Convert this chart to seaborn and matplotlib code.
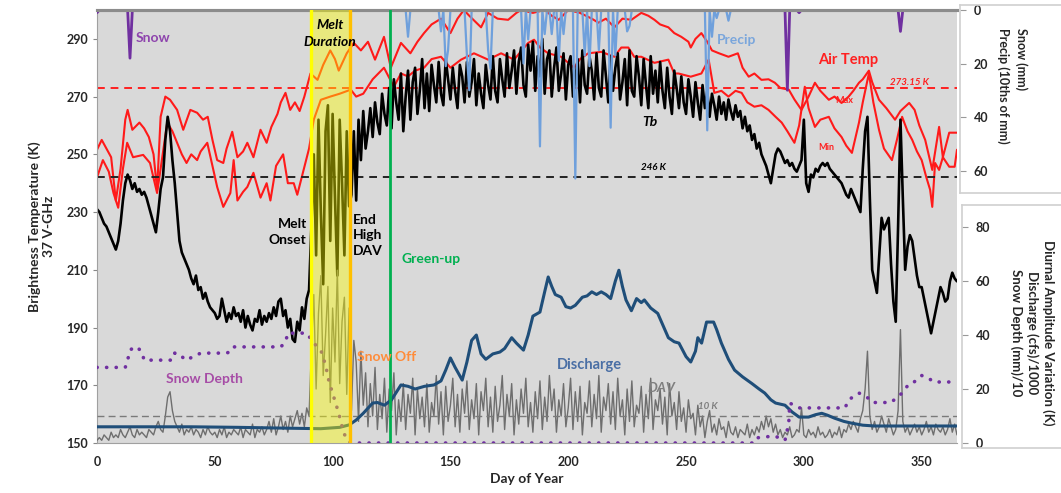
import numpy as np
import pandas as pd
import matplotlib
matplotlib.use("Agg")
import matplotlib.pyplot as plt
import seaborn as sns

# ---------------- data ----------------
days = list(range(366))
tb = [231,230,228,226,225,223,221,219,217,220,
      226,234,240,243,241,238,240,237,238,236,
      237,235,232,229,226,223,230,238,242,255,
      263,258,248,240,230,220,216,214,212,210,
      207,205,208,203,204,200,202,199,197,196,
      195,193,194,200,196,192,195,193,197,194,
      195,192,196,190,194,191,189,193,192,196,
      191,194,192,195,193,197,194,199,200,194,
      196,190,193,186,185,192,189,197,193,200,
      203,225,250,215,262,230,205,258,267,220,
      264,235,208,262,240,215,258,232,236,258,
      234,262,248,265,252,258,266,256,268,261,
      257,271,264,260,273,259,276,268,262,278,
      258,270,279,262,275,280,264,272,283,266,
      278,265,281,274,268,282,271,267,283,276,
      269,280,272,266,281,277,268,282,270,275,
      283,267,278,271,266,281,274,269,284,272,
      268,283,276,270,285,273,279,286,271,282,
      287,274,270,288,279,289,272,284,277,290,
      271,283,286,270,280,287,272,278,285,269,
      281,284,270,276,283,268,286,274,271,284,
      279,269,285,273,270,286,277,268,284,272,
      280,285,269,275,283,267,286,272,270,284,
      277,267,283,274,266,284,271,279,268,282,
      272,266,280,270,264,279,273,266,277,268,
      264,276,270,263,275,268,262,274,266,272,
      263,271,267,262,270,264,268,262,269,265,
      262,267,263,265,259,263,258,260,255,257,
      252,254,250,248,246,243,240,245,250,252,
      251,249,247,248,246,247,245,244,246,248,
      262,240,237,243,242,245,244,246,247,246,
      247,245,244,243,242,241,240,238,236,235,
      238,236,234,232,230,245,258,263,235,210,
      206,202,215,228,224,226,228,212,199,192,
      225,262,235,210,218,222,220,214,208,204,
      204,200,196,192,188,192,196,200,204,202,
      199,200,206,209,207,206]

dav = [1,2,1,3,2,1,4,2,3,2,
       5,3,2,4,6,3,2,5,3,4,
       3,2,5,4,3,6,8,5,4,10,
       17,19,12,8,6,4,7,3,5,4,
       6,3,5,4,2,5,3,6,4,3,
       4,2,5,3,6,2,4,3,5,4,
       3,6,2,5,4,3,7,2,5,4,
       6,3,5,8,4,9,3,6,10,5,
       8,4,10,6,9,12,7,11,6,13,
       10,35,55,20,48,62,25,40,58,15,
       50,30,64,22,45,54,18,50,12,38,
       30,8,34,14,26,6,22,10,28,5,
       18,9,24,4,20,12,26,3,16,8,
       22,5,18,11,24,3,20,9,17,6,
       22,4,15,10,25,7,19,3,21,8,
       14,24,6,18,4,20,11,23,5,16,
       9,22,3,19,12,24,6,17,4,21,
       8,14,25,5,18,10,22,3,16,7,
       20,11,24,6,15,4,19,9,23,5,
       17,8,25,12,20,4,16,10,22,6,
       13,24,5,19,8,21,3,15,11,23,
       6,18,9,25,4,17,12,22,7,19,
       5,24,10,16,3,20,8,23,6,14,
       11,21,4,18,9,24,5,16,12,20,
       7,17,3,22,10,15,5,19,8,13,
       4,16,9,11,3,14,6,10,2,8,
       12,4,7,3,9,5,6,2,8,4,
       3,6,2,5,4,3,7,2,5,3,
       6,4,8,5,10,6,9,4,7,3,
       5,2,4,3,6,2,3,5,4,13,
       3,2,5,3,4,2,6,3,4,2,
       3,5,2,4,3,6,2,5,4,7,
       5,8,6,4,9,12,20,34,10,5,
       8,4,6,10,7,4,9,6,3,5,
       12,42,8,4,6,3,5,7,4,6,
       3,5,8,4,6,3,7,5,4,6,
       3,5,9,4,7,3]

tmax_day = [0,2,4,6,8,10,12,13,15,18,20,22,24,25.5,27,29,31,34,36.6,39.6,42.5,45,47,49,51,53.6,55,57.4,59.6,62,63.8,66.4,69.4,72,74,76.6,78,80,82,84,86,88,90.6,93.6,96,99,101,102.6,106,109,112,115,118,121.8,124.7,129,133,136,138.8,142,146,150,153,155.7,158,163,166,170,174.5,178,180,185,190,193,196,200,205,210,212.8,216,219.6,223,226.8,231,234,236.6,239,242.5,245,248,251,252,254,256.5,259,261,264,268,272,274,276.6,279,282,285,287.7,290,293.6,296,299,302,304.7,307,310.6,313,316,319,321,323.4,325,327.6,329,331.9,335,338.7,341,344.7,347,349,351.5,354.5,357.4,359,361.7,365]
tmax = [251.6,255,252,249,234,245,262,265.4,258.5,261,259,256,250,237.7,263,270,268.9,265.4,258.5,265.4,264.4,262,263,255,248,247,252,257.8,249,251,254,249,258.5,254,259.5,264,268,271.3,265.4,268,265,270,278,275.8,281,286,283,279,285,288.6,286,289,282.8,290.7,280,288.6,285,289,292,295,297,292,297,300,298,294,299,297,296.6,299,300,299,300,298,296.6,300,299,297,295.6,297,294,297,296.6,299,298,296.6,295,294,292,290.7,289,287,290,292,289,286,285,283.8,285,280,276.9,278,275.8,276,274.8,273,272.4,269,265.4,270,274.8,272,268.9,270,267.8,270,272,274.8,276,279,275,268.9,266,262,265,267.8,265.4,260,255,244.6,259.5,249,257.5,257.5]

tmin_day = [0,2.5,5,7,9,11,12.8,15.3,19.6,22.5,25.5,27,29.8,32,34,36,38,40,42.5,44,46.8,49,51,53.6,56.6,58,59.6,62,63.8,66.4,69.4,72,73.6,76,79,81,83.5,85,87.7,90,92,95,99,103,107.7,110,113,117,121.8,126,129,132,135,138.8,142,146,150,154.5,160,166,171.5,177,183,185.5,188,191.5,197,202.5,205,208.5,214,219.6,222.5,225.5,228,231,236.6,242.5,245,246.8,252,256.5,259.6,262,265,268,271,273.6,276,279,282,285,288,290.6,293,296,298,300.4,302,304.7,307,310.6,313,316,318,320.4,323.4,325,327.6,329.5,331.9,334,337.4,339.5,341.7,344,346,348,350,352,353.6,354.5,355.7,357.4,359,361.7,364,365]
tmin = [242,248,244,236.6,231.5,245,254,249,249.8,247,236.6,245,261,258,254,250,247,250,248,251,254,246,238.7,231.8,236.6,248,234,237,238.7,243.6,235,240,234,246,250,240,240,236,244.6,252,262,268.9,270,271,272.4,270,271,276,280,273.4,278,277,279,280,283,283.8,280,282.8,285,282.8,285,282.8,288.6,289.7,287,285,283.8,280,283,285,285.5,283.8,287,287,283.8,283.8,281.7,282.8,278,278,276.9,278,282.8,271.3,272,270,272,271.3,268,266.5,267,265.4,263,261,258,254,260,273.4,266,259.5,262,263,259,256,253,250.5,261,268,278,268,258.5,252,248,255,263,258,255,251,248,242,237.7,231.8,247,244.6,249,245.7,245.7,251.6]

discharge_day = [0,20,40,60,80,95,103,107,110,113,117,119,122,125,129,132,135,139,143,146,148,150,152,155,157,159,161,163,165,168,171,173,176,178,181,183,185,188,190,191.5,193,194.5,197,199,201,203,206,208,210,212,214,216,218,220,221.5,223,224.5,226.8,229,231,232.3,235,238,240,242.5,245,247,250,252,254,255,256.6,258.7,261.7,263,265,268,270.6,274,278,281,283.4,286,288,292,295,298,302,305,307.6,310,313,317,320,325,330,365]
discharge = [6,6,6,5.8,5.5,5.3,5.8,6.7,8.5,11,14.8,15,14,16,21.5,21,20,21,21.5,23,27,31.5,28,23.3,30,38,40,33,31,33,33.7,35,39,37,34.4,40,47,48.5,56,61.5,58,55,54,50.5,50,51,54,54.5,56,55,56,55,53.5,60,64,58,53,49,53.5,52,53,50,48,44,39,37.5,37,32,30,34,39,37,44.8,44.8,42,37,31,27,24.5,22,20,18.5,16,14.8,14,11.5,9.6,9.6,10.5,11,10.3,9.2,8,7.4,6.6,6.3,6.3]

snowdepth_day = [0,12,13,14,16,17,19,20,32,33,35,37.5,41,44,55,57,58,78,80,81,89,92,95,97,98.4,100.5,102.6,104.7,106.8,108,278,279,283,287.6,292,293.6,294,298,317.5,319,323.4,326.8,329,337,341.7,344.7,346.8,350,353,355,365]
snowdepth = [28,28,30.7,34.4,35.6,35.6,33.7,30.7,30.7,33.3,33,30.7,32,33.3,33.3,34,35.6,35.6,37.4,40.7,40.7,37,34.4,28.9,23,17,11,3.7,0.4,0,0,1.8,2.2,2.6,1,7.4,14.8,13,13,16,18.5,17,15,15,18.5,22,22.6,25,24,22.6,22.6]

precip_day = [132,146,148,149,157,158,166,167,181,183,188,190,193,196,198,203,207,209,213,218,220,225,226,259,261,263,268]
precip_val = [10,8,21,15,17,30,15,22,20,11,51,9,9,19,9,63,17,21,15,44,17,8,6,45,10,3,4]

snow_day = [0,14,293,298,341]
snow_val = [1,18,30,1,8]

melt_onset, melt_end, green_up = 91, 107.5, 124.5
freeze_K, tb_threshold, dav_threshold = 273.15, 242, 10

x_ticks = [0, 50, 100, 150, 200, 250, 300, 350]
y_ticks_left = [150, 170, 190, 210, 230, 250, 270, 290]
precip_ticks = [0, 20, 40, 60]
dav_ticks = [0, 20, 40, 60, 80]

# ---------------- style ----------------
sns.set_style("white")
plt.rcParams['font.family'] = ['Lato', 'DejaVu Sans']
plt.rcParams['font.weight'] = 'bold'

W, H = 1061, 493
fig = plt.figure(figsize=(W / 100, H / 100), dpi=100)

def rect(x0, y0, x1, y1):
    return [x0 / W, 1 - y1 / H, (x1 - x0) / W, (y1 - y0) / H]

ax = fig.add_axes(rect(97, 10, 957, 443))
ax.set_facecolor('#d9d9d9')
ax.set_xlim(0, 365)
ax.set_ylim(150, 300)

ax2 = ax.twinx()
ax2.set_ylim(0, 160.4)
ax3 = ax.twinx()
ax3.set_ylim(161.9, 0)
for a in (ax2, ax3):
    a.set_yticks([])
    for s in a.spines.values():
        s.set_visible(False)
ax3.spines['top'].set_visible(True)
ax3.spines['top'].set_color('#8c8c8c')
ax3.spines['top'].set_linewidth(2.2)

# main series
sns.lineplot(x=tmax_day, y=tmax, ax=ax, color='#ff1a1a', lw=1.5, sort=False, estimator=None)
sns.lineplot(x=tmin_day, y=tmin, ax=ax, color='#ff1a1a', lw=1.5, sort=False, estimator=None)
ax.axhline(freeze_K, color='#ff2020', lw=1.4, ls=(0, (4, 3)))
ax.axhline(tb_threshold, color='#222222', lw=1.4, ls=(0, (4, 3)))
sns.lineplot(x=days, y=tb, ax=ax, color='black', lw=1.9, sort=False, estimator=None)

# secondary series
sns.lineplot(x=days, y=dav, ax=ax2, color='#6e6e6e', lw=1.0, sort=False, estimator=None)
ax2.axhline(dav_threshold, color='#7a7a7a', lw=1.0, ls=(0, (5, 3)))
sns.lineplot(x=discharge_day, y=discharge, ax=ax2, color='#1f4e79', lw=2.2, sort=False, estimator=None)
sns.lineplot(x=snowdepth_day, y=snowdepth, ax=ax2, color='#7030a0', lw=2.6,
             linestyle=(0, (0.05, 2.6)), dash_capstyle='round', sort=False, estimator=None)

# precip & snow as daily series (zero on days without)
precip_daily = np.zeros(len(days))
precip_daily[precip_day] = precip_val
snow_daily = np.zeros(len(days))
snow_daily[snow_day] = snow_val
sns.lineplot(x=days, y=precip_daily, ax=ax3, color='#6fa0dc', lw=1.6, sort=False, estimator=None)
sns.lineplot(x=days, y=snow_daily, ax=ax3, color='#7030a0', lw=2.0, sort=False, estimator=None)

# melt duration band and green-up
ax3.axvspan(melt_onset, melt_end, color='#ffff00', alpha=0.42, lw=0, zorder=5)
ax3.axvline(melt_onset, color='#ffff00', lw=2.4, zorder=6)
ax3.axvline(melt_end, color='#ffc000', lw=2.4, zorder=6)
ax3.axvline(green_up, color='#00b050', lw=2.0, zorder=6)

# axes cosmetics
ax.set_xticks(x_ticks)
ax.set_yticks(y_ticks_left)
ax.tick_params(axis='both', labelsize=9, length=3, color='#888888', direction='out')
ax.tick_params(axis='x', pad=6)
for lbl in ax.get_xticklabels() + ax.get_yticklabels():
    lbl.set_fontweight('bold')
ax.spines['right'].set_visible(False)
ax.spines['top'].set_color('#8c8c8c'); ax.spines['top'].set_linewidth(2.2)
ax.spines['left'].set_color('#a0a0a0'); ax.spines['bottom'].set_color('#a0a0a0')
ax.set_xlabel('Day of Year', fontsize=10, fontweight='bold', labelpad=4)
ax.set_ylabel('Brightness Temperature (K)\n37 V-GHz', fontsize=10, fontweight='bold', labelpad=8)

T = ax.transData
def note(x, y, s, color='black', size=10, style='normal', ha='left', va='center', **kw):
    ax3.text(x, y, s, transform=T, color=color, fontsize=size, fontstyle=style,
             fontweight='bold', ha=ha, va=va, zorder=10, **kw)

note(16.5, 290.3, 'Snow', color='#8e44ad')
note(99, 292, 'Melt\nDuration', style='italic', ha='center', linespacing=1.5)
note(263, 289.6, 'Precip', color='#7aa6dc')
note(306, 282.7, 'Air Temp', color='#ff2020', size=10.5)
note(336.4, 275, '273.15 K', color='#ff2020', size=7, style='italic')
note(313.5, 268.8, 'Max', color='#ff2020', size=6.5)
note(306, 252.2, 'Min', color='#ff2020', size=6.5)
note(231.5, 261.2, 'Tb', style='italic', size=10)
note(231, 245.6, '246 K', style='italic', size=7)
note(89, 223, 'Melt\nOnset', ha='right', linespacing=1.4)
note(108.6, 222, 'End\nHigh\nDAV', linespacing=1.35)
note(129.4, 213.7, 'Green-up', color='#00b050')
note(110.3, 179.8, 'Snow Off', color='#ff8c3a')
note(29.3, 172.2, 'Snow Depth', color='#a64ca6')
note(195.2, 177, 'Discharge', color='#4a6fa5', size=10.5)
note(233.8, 169, 'DAV', color='#7f7f7f', style='italic')
note(255, 162.5, '10 K', color='#7f7f7f', style='italic', size=7)

# ---------------- right-hand axis panels ----------------
def panel(x0, y0, x1, y1, lim, ticks):
    p = fig.add_axes(rect(x0, y0, x1, y1))
    p.set_facecolor('white')
    p.set_xticks([])
    p.set_ylim(*lim)
    p.set_yticks(ticks)
    p.tick_params(axis='y', direction='in', length=4, color='#999999', pad=-10,
                  labelsize=9, left=True, labelleft=True)
    for lbl in p.get_yticklabels():
        lbl.set_horizontalalignment('left')
        lbl.set_fontweight('bold')
    for s in p.spines.values():
        s.set_color('#d0d0d0'); s.set_linewidth(1.2)
    return p

p1 = panel(960, 5, 1066, 193, (68.4, -1.87), precip_ticks)
p1.text(1012 / W, 1 - 28 / H, 'Snow (mm)\nPrecip (10ths of mm)', transform=fig.transFigure,
        rotation=270, ha='center', va='top', fontsize=9, fontweight='bold',
        multialignment='left', linespacing=1.5)
p2 = panel(962, 205, 1066, 448, (-1.85, 88.1), dav_ticks)
p2.text(1032 / W, 1 - 333 / H,
        'Diurnal Amplitude Variation (K)\nDischarge (cfs)/1000\nSnow Depth (mm)/10',
        transform=fig.transFigure, rotation=270, ha='center', va='center', fontsize=9.5,
        fontweight='bold', multialignment='center', linespacing=1.3)

fig.savefig('out.png', dpi=100, facecolor='white')
